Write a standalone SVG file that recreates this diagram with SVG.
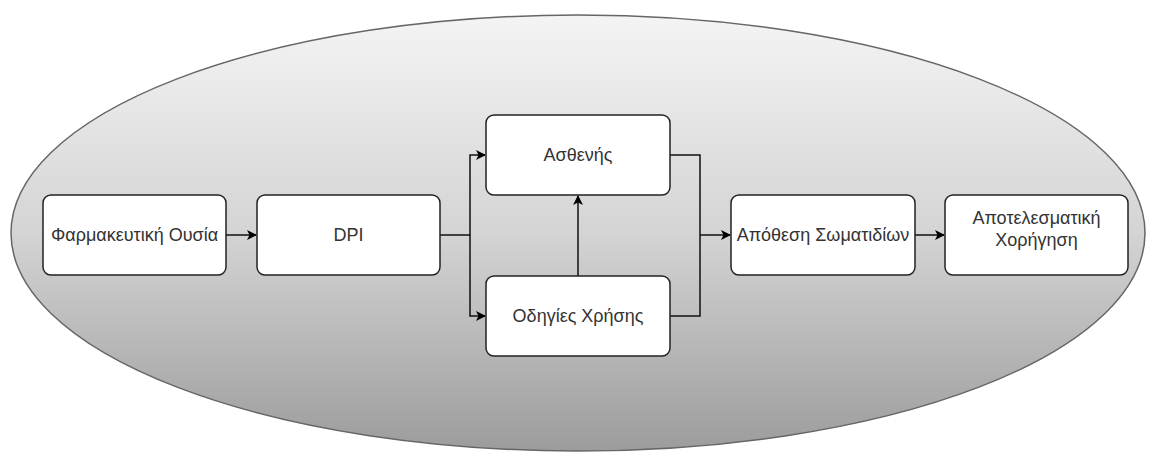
<svg xmlns="http://www.w3.org/2000/svg" width="1151" height="452" viewBox="0 0 1151 452">
<defs>
<linearGradient id="bg" x1="0" y1="0" x2="0" y2="1">
<stop offset="0" stop-color="#f4f4f4"/>
<stop offset="0.5" stop-color="#d4d4d4"/>
<stop offset="1" stop-color="#9c9c9c"/>
</linearGradient>
<marker id="arr" markerWidth="10" markerHeight="10" refX="9" refY="5" orient="auto" markerUnits="userSpaceOnUse">
<path d="M0,0 L10,5 L0,10 L2.5,5 Z" fill="#000"/>
</marker>
<style>
.box{fill:#fff;stroke:#222;stroke-width:1.5}
.lbl{font-family:"Liberation Sans Narrow","Liberation Sans",sans-serif;font-size:18px;fill:#333;text-anchor:middle}
.c{fill:none;stroke:#111;stroke-width:1.5}
</style>
</defs>
<ellipse id="container" cx="578" cy="233" rx="567" ry="218" fill="url(#bg)" stroke="#666" stroke-width="1.5"/>
<g id="connectors">
<path class="c" d="M226,235 H256" marker-end="url(#arr)"/>
<path class="c" d="M440,235 H470 V155 H485" marker-end="url(#arr)"/>
<path class="c" d="M470,235 V316 H485" marker-end="url(#arr)"/>
<path class="c" d="M578,276 V196" marker-end="url(#arr)"/>
<path class="c" d="M670,155 H700 V316 H670"/>
<path class="c" d="M700,235 H730" marker-end="url(#arr)"/>
<path class="c" d="M915,235 H944" marker-end="url(#arr)"/>
</g>
<g id="n1"><rect class="box" x="43" y="195" width="183" height="80" rx="8"/><text class="lbl" x="134.5" y="241">Φαρμακευτική Ουσία</text></g>
<g id="n2"><rect class="box" x="257" y="195" width="183" height="80" rx="8"/><text class="lbl" x="348.5" y="241">DPI</text></g>
<g id="n3"><rect class="box" x="486" y="115" width="184" height="80" rx="8"/><text class="lbl" x="578" y="161">Ασθενής</text></g>
<g id="n4"><rect class="box" x="486" y="276" width="184" height="80" rx="8"/><text class="lbl" x="578" y="322">Οδηγίες Χρήσης</text></g>
<g id="n5"><rect class="box" x="731" y="195" width="184" height="80" rx="8"/><text class="lbl" x="823" y="241">Απόθεση Σωματιδίων</text></g>
<g id="n6"><rect class="box" x="945" y="195" width="183" height="80" rx="8"/><text class="lbl" x="1036.5" y="224">Αποτελεσματική</text><text class="lbl" x="1036.5" y="246">Χορήγηση</text></g>
</svg>
